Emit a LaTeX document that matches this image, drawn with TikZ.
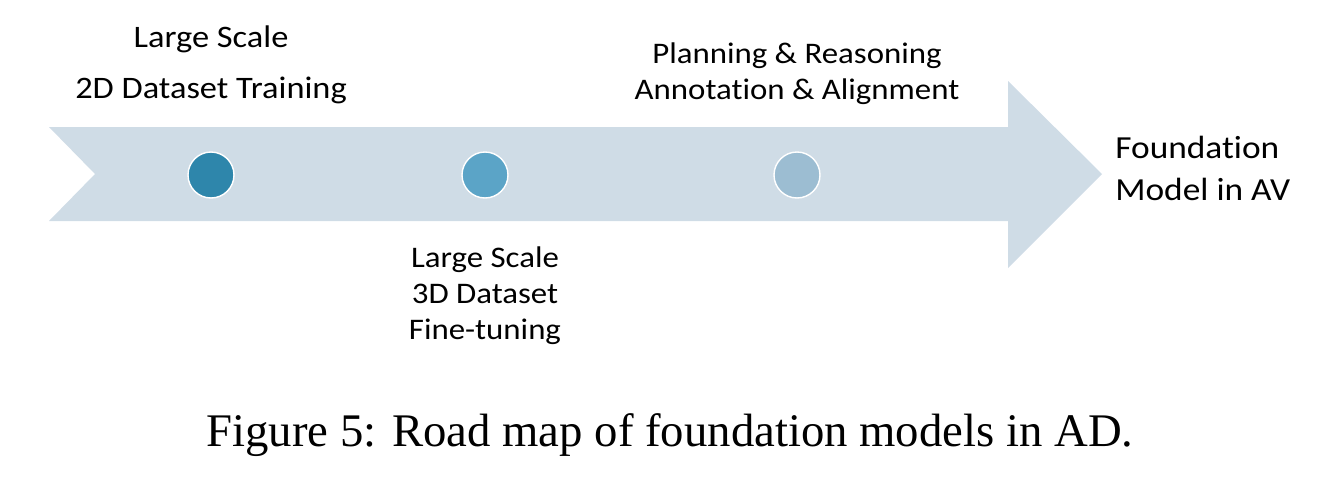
\documentclass[tikz,border=0pt]{standalone}
\usepackage{fontspec}
\setmainfont{Liberation Serif}
\newfontfamily\calibri[FakeStretch=1.1,Ligatures=NoCommon]{Carlito}
\usetikzlibrary{positioning}
\definecolor{band}{HTML}{CFDCE6}
\definecolor{stepA}{HTML}{2E86AB}
\definecolor{stepB}{HTML}{5BA4C7}
\definecolor{stepC}{HTML}{9CBDD2}

\begin{document}
\begin{tikzpicture}[x=0.02cm,y=-0.02cm,
    milestone/.style={circle,draw=white,line width=0.8pt,minimum size=0.92cm,inner sep=0pt},
    steptext/.style={align=center,inner sep=0pt,font=\calibri\fontsize{17}{20.5}\selectfont}]
  \useasboundingbox (0,0) rectangle (1333,488);
  % road arrow
  \fill[band] (49,127) -- (1008,127) -- (1008,81) -- (1102,174)
    -- (1008,268) -- (1008,221) -- (49,221) -- (95,174) -- cycle;
  % milestones
  \node[milestone,fill=stepA] (m1) at (211,175) {};
  \node[milestone,fill=stepB] (m2) at (485,175) {};
  \node[milestone,fill=stepC] (m3) at (797,175) {};
  % texts
  \node[steptext,anchor=north,font=\calibri\fontsize{17.8}{20.5}\selectfont] (t1) at (211,25) {Large Scale\\[9pt]2D Dataset Training};
  \node[steptext,anchor=north] (t3) at (797,42) {Planning \& Reasoning\\Annotation \& Alignment};
  \node[steptext,anchor=north] (t2) at (485,246) {Large Scale\\3D Dataset\\Fine-tuning};
  \node[steptext,align=left,anchor=north west,font=\calibri\fontsize{18.3}{24}\selectfont] (goal) at (1115,136) {Foundation\\Model in AV};
  % caption
  \node[font=\fontsize{26.6}{30}\selectfont,anchor=base] (cap) at (670,446) {Figure 5: Road map of foundation models in AD.};
\end{tikzpicture}
\end{document}
